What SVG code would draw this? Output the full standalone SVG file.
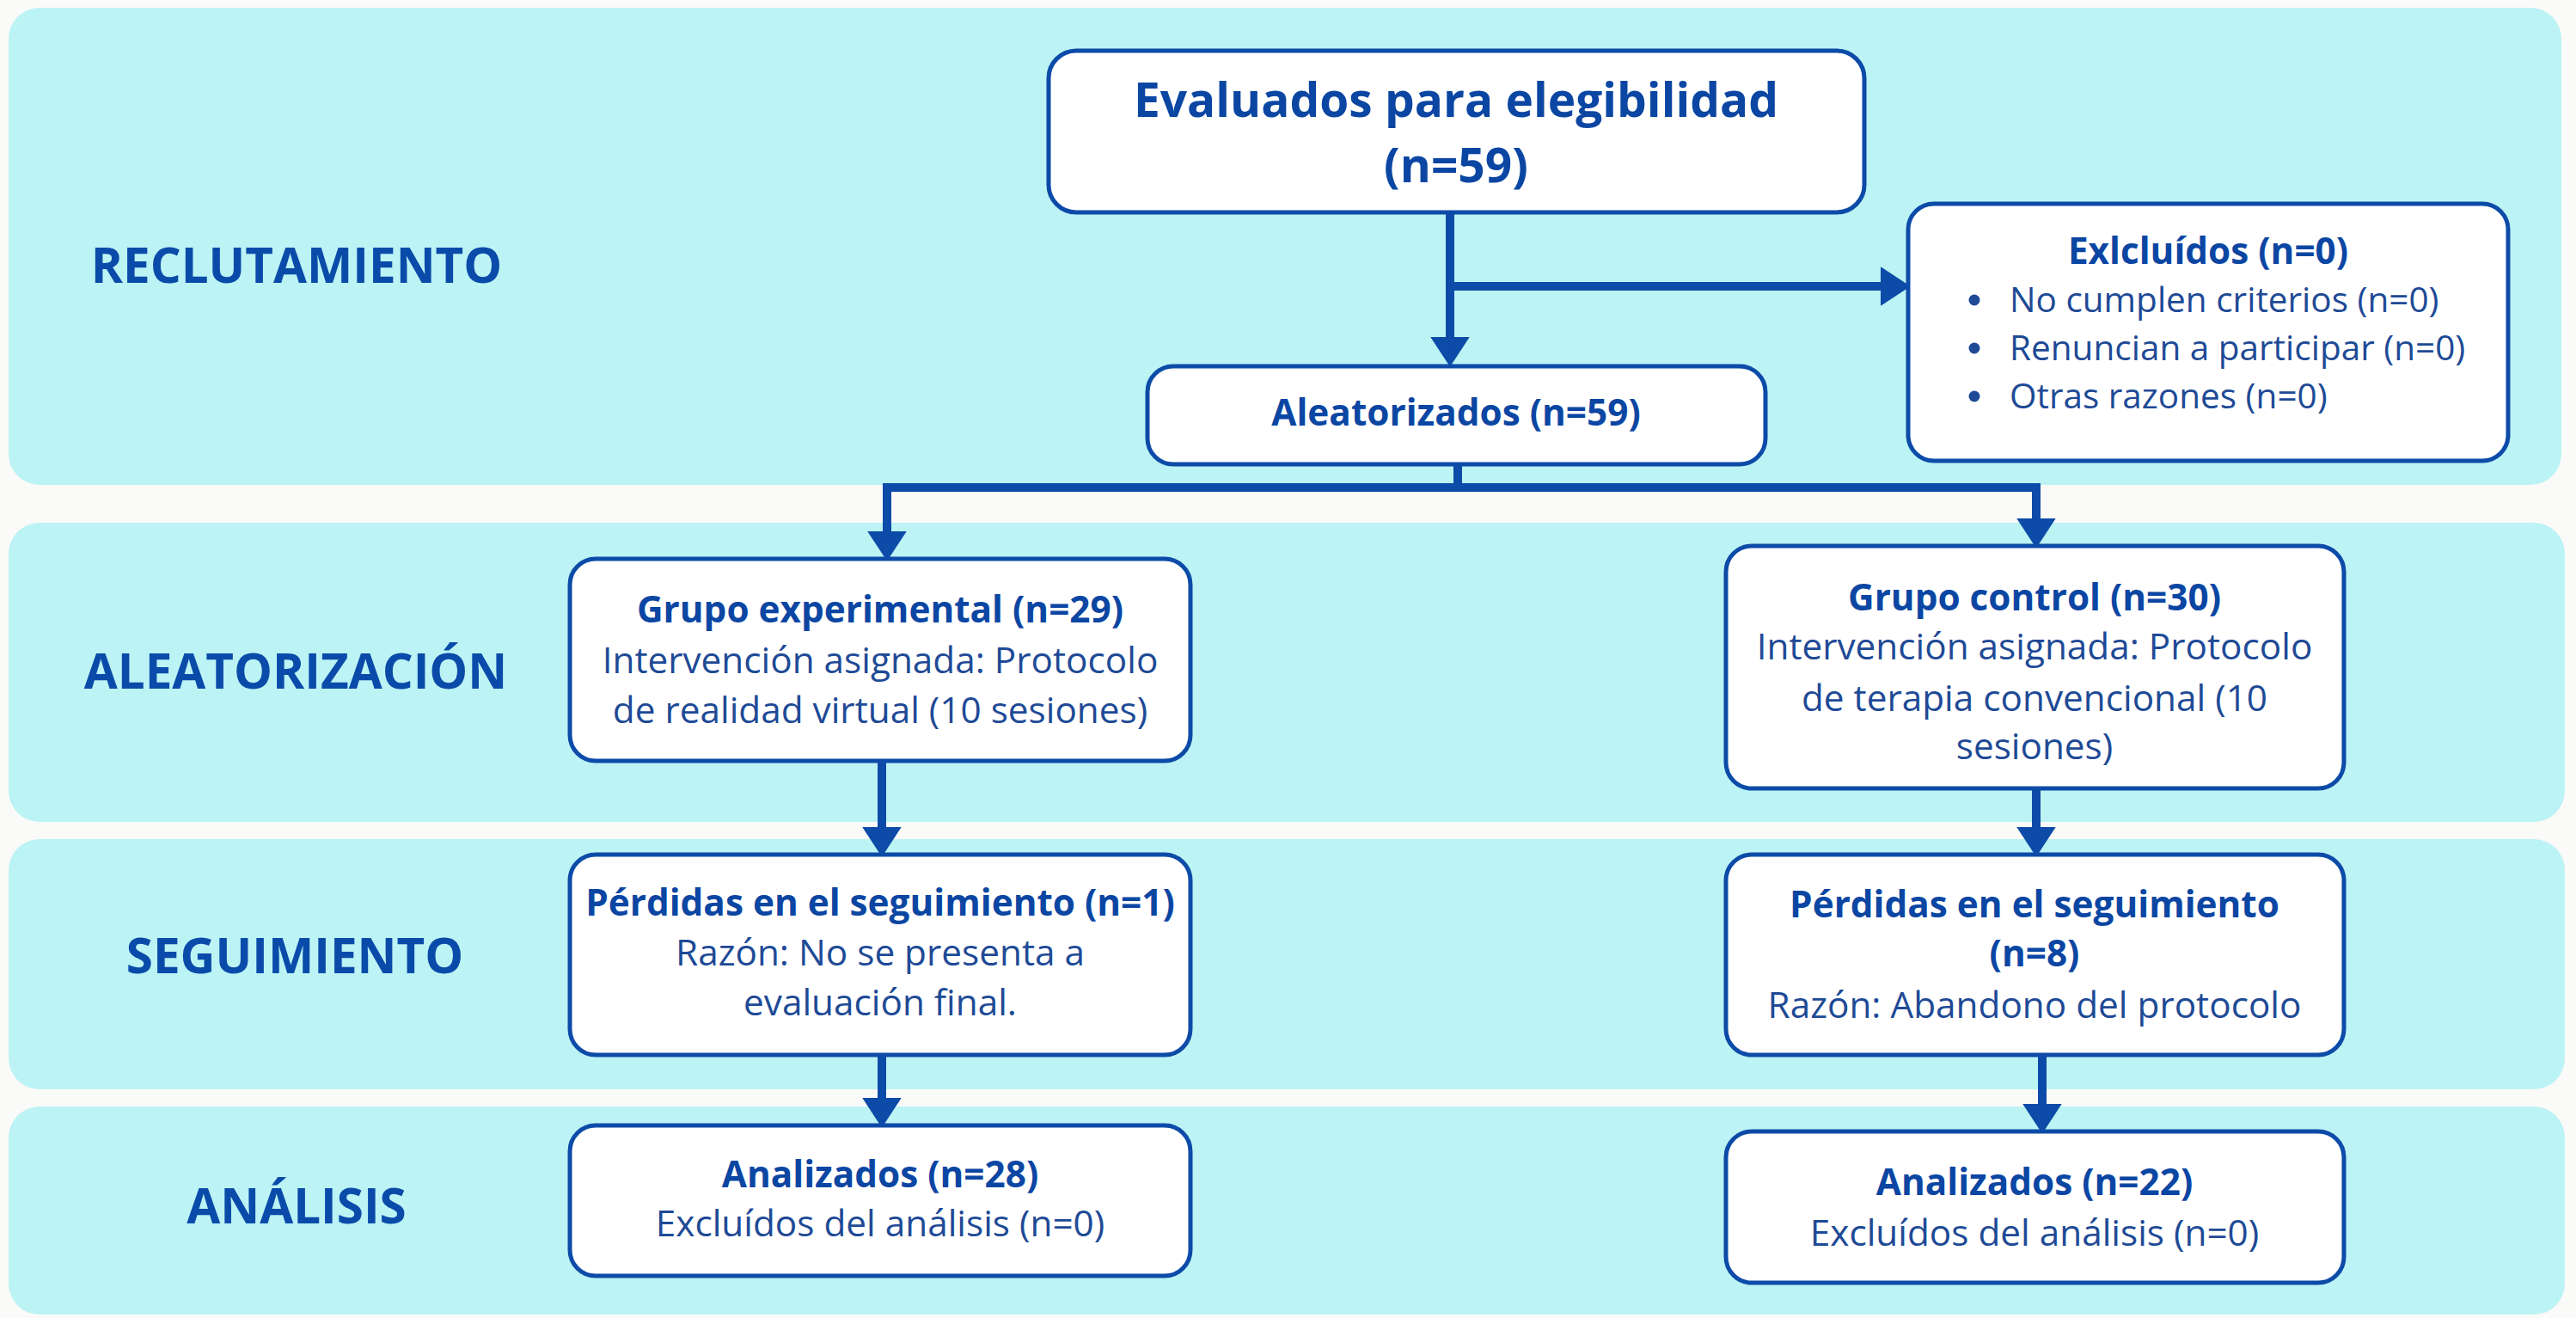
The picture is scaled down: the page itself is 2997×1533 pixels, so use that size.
<svg xmlns="http://www.w3.org/2000/svg" width="2997" height="1533" viewBox="0 0 2997 1533">
<defs>
<style>
.band{fill:#BCF3F4;}
.box{fill:#FFFFFF;stroke:#0D4BA8;stroke-width:5;}
.sec{font-family:"Open Sans","Noto Sans",sans-serif;font-weight:700;font-size:56.5px;fill:#0A4BAA;text-anchor:middle;}
.t{font-family:"Open Sans","Noto Sans",sans-serif;font-weight:700;font-size:42.3px;fill:#0B46A3;text-anchor:middle;}
.b{font-family:"Open Sans","Noto Sans",sans-serif;font-weight:400;font-size:42.3px;fill:#1E4A96;text-anchor:middle;}
.big{font-family:"Open Sans","Noto Sans",sans-serif;font-weight:700;font-size:55px;fill:#0B46A3;text-anchor:middle;}
.bl{font-family:"Open Sans","Noto Sans",sans-serif;font-weight:400;font-size:40.5px;fill:#1E4A96;}
.con{fill:none;stroke:#0D4BA8;stroke-width:10;}
</style>
<marker id="ah" markerUnits="userSpaceOnUse" markerWidth="34" markerHeight="46" viewBox="0 0 34 46" refX="4" refY="23" orient="auto">
<path d="M0,2 L32,23 L0,44 z" fill="#0D4BA8" stroke="#0D4BA8" stroke-width="3" stroke-linejoin="round"/>
</marker>
</defs>
<rect x="0" y="0" width="2997" height="1533" fill="#FAFAF8"/>
<g id="bands">
<rect class="band" x="10" y="9" width="2970" height="555" rx="36"/>
<rect class="band" x="10" y="608" width="2974" height="348" rx="36"/>
<rect class="band" x="10" y="976" width="2974" height="291" rx="36"/>
<rect class="band" x="10" y="1287" width="2974" height="242" rx="36"/>
</g>
<g id="labels">
<text class="sec" x="345" y="329">RECLUTAMIENTO</text>
<text class="sec" x="344" y="801">ALEATORIZACIÓN</text>
<text class="sec" x="343" y="1132">SEGUIMIENTO</text>
<text class="sec" x="345" y="1423">ANÁLISIS</text>
</g>
<g id="connectors">
<line class="con" x1="1687" y1="247" x2="1687" y2="396" marker-end="url(#ah)"/>
<line class="con" x1="1687" y1="333" x2="2192" y2="333" marker-end="url(#ah)"/>
<path class="con" d="M1696,540 L1696,567 M1032,567 L2369,567"/>
<line class="con" x1="1032" y1="562" x2="1032" y2="622" marker-end="url(#ah)"/>
<line class="con" x1="2369" y1="562" x2="2369" y2="607" marker-end="url(#ah)"/>
<line class="con" x1="1026" y1="885" x2="1026" y2="966" marker-end="url(#ah)"/>
<line class="con" x1="1026" y1="1227" x2="1026" y2="1281" marker-end="url(#ah)"/>
<line class="con" x1="2369" y1="917" x2="2369" y2="966" marker-end="url(#ah)"/>
<line class="con" x1="2376" y1="1227" x2="2376" y2="1288" marker-end="url(#ah)"/>
</g>
<g id="evaluados">
<rect class="box" x="1220" y="59" width="949" height="188" rx="32"/>
<text class="big" x="1694" y="136">Evaluados para elegibilidad</text>
<text class="big" x="1694" y="212">(n=59)</text>
</g>
<g id="aleatorizados">
<rect class="box" x="1335" y="426" width="719" height="114" rx="30"/>
<text class="t" x="1694" y="495">Aleatorizados (n=59)</text>
</g>
<g id="excluidos">
<rect class="box" x="2220" y="237" width="698" height="299" rx="30"/>
<text class="t" x="2569" y="307">Exlcluídos (n=0)</text>
<circle cx="2297" cy="349" r="6.5" fill="#1E4A96"/>
<text class="bl" x="2338" y="363">No cumplen criterios (n=0)</text>
<circle cx="2297" cy="405" r="6.5" fill="#1E4A96"/>
<text class="bl" x="2338" y="419">Renuncian a participar (n=0)</text>
<circle cx="2297" cy="461" r="6.5" fill="#1E4A96"/>
<text class="bl" x="2338" y="475">Otras razones (n=0)</text>
</g>
<g id="grupo-experimental">
<rect class="box" x="663" y="650" width="722" height="235" rx="30"/>
<text class="t" x="1024" y="724">Grupo experimental (n=29)</text>
<text class="b" x="1024" y="783">Intervención asignada: Protocolo</text>
<text class="b" x="1024" y="841">de realidad virtual (10 sesiones)</text>
</g>
<g id="perdidas-experimental">
<rect class="box" x="663" y="994" width="722" height="233" rx="30"/>
<text class="t" x="1024" y="1065">Pérdidas en el seguimiento (n=1)</text>
<text class="b" x="1024" y="1123">Razón: No se presenta a</text>
<text class="b" x="1024" y="1181">evaluación final.</text>
</g>
<g id="analizados-experimental">
<rect class="box" x="663" y="1309" width="722" height="175" rx="30"/>
<text class="t" x="1024" y="1381">Analizados (n=28)</text>
<text class="b" x="1024" y="1438">Excluídos del análisis (n=0)</text>
</g>
<g id="grupo-control">
<rect class="box" x="2008" y="635" width="719" height="282" rx="30"/>
<text class="t" x="2367" y="710">Grupo control (n=30)</text>
<text class="b" x="2367" y="767">Intervención asignada: Protocolo</text>
<text class="b" x="2367" y="827">de terapia convencional (10</text>
<text class="b" x="2367" y="883">sesiones)</text>
</g>
<g id="perdidas-control">
<rect class="box" x="2008" y="994" width="719" height="233" rx="30"/>
<text class="t" x="2367" y="1067">Pérdidas en el seguimiento</text>
<text class="t" x="2367" y="1124">(n=8)</text>
<text class="b" x="2367" y="1184">Razón: Abandono del protocolo</text>
</g>
<g id="analizados-control">
<rect class="box" x="2008" y="1316" width="719" height="176" rx="30"/>
<text class="t" x="2367" y="1390">Analizados (n=22)</text>
<text class="b" x="2367" y="1449">Excluídos del análisis (n=0)</text>
</g>
</svg>
